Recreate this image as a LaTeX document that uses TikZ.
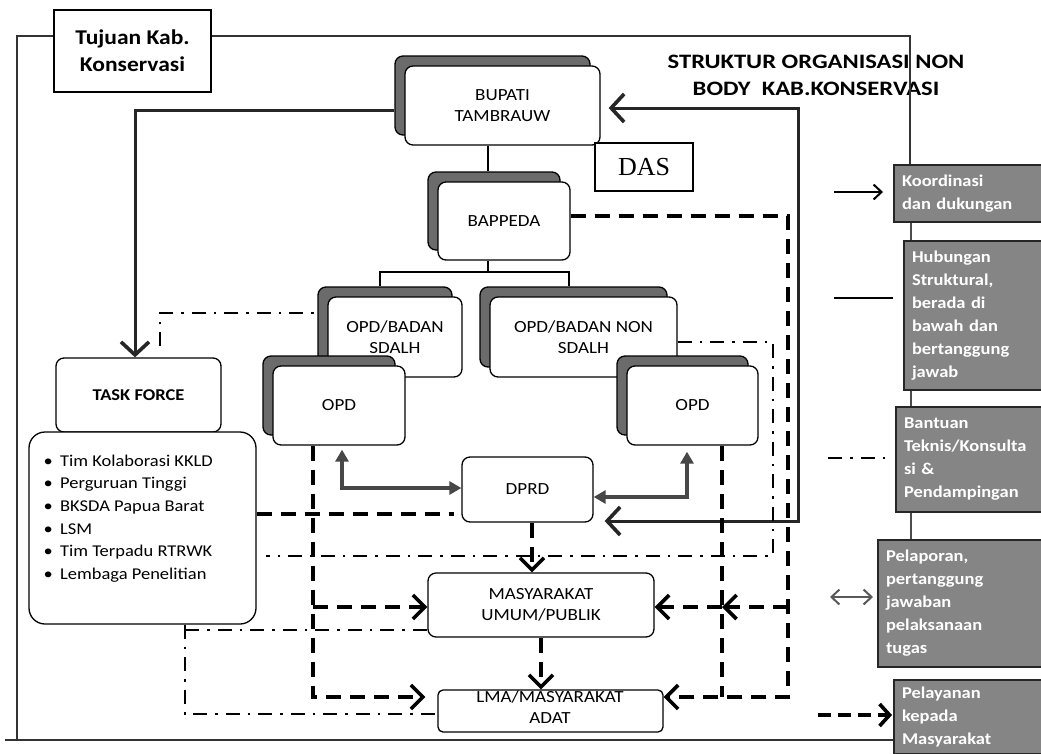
\documentclass[tikz,border=0pt]{standalone}
\usepackage{fontspec}
\setmainfont{Carlito}[FakeStretch=1.12]
\newfontfamily\titlefont{Carlito}[FakeStretch=1.2]
\newfontfamily\dasfont{Liberation Serif}
\usetikzlibrary{arrows.meta,shadows,calc}
\tikzset{
  card/.style={draw=black, line width=1.3pt, fill=white, rounded corners=8pt, align=center,
    font=\fontsize{17}{21.5}\selectfont, inner sep=0pt},
  shcard/.style={card, copy shadow={shadow xshift=-10pt, shadow yshift=10pt, fill=black!58, draw=black, line width=1.3pt}},
  legendbox/.style={draw=black!85, line width=2pt, fill=black!48, text=white, align=left,
    font=\bfseries\fontsize{16.5}{23}\selectfont, anchor=west, inner xsep=8pt, inner ysep=0pt},
  solidln/.style={line width=3pt, draw=black!85},
  grayln/.style={line width=4pt, draw=black!72},
  dashln/.style={line width=4.5pt, draw=black, dash pattern=on 15pt off 9pt},
  dashdotln/.style={line width=2pt, draw=black, dash pattern=on 14pt off 8pt on 2.5pt off 8pt},
  frameln/.style={line width=2.2pt, draw=black!80},
  treeln/.style={line width=1.3pt, draw=black},
  bigbarb/.tip={Straight Barb[length=13pt,width=28pt,line width=3.6pt]},
  midbarb/.tip={Straight Barb[length=12pt,width=24pt,line width=3.6pt]},
  smallbarb/.tip={Straight Barb[length=8pt,width=15pt,line width=2pt]},
  tri/.tip={Triangle[length=12pt,width=13pt]}
}
\begin{document}
\begin{tikzpicture}[x=1pt,y=-1pt]
\useasboundingbox (0,0) rectangle (1041,753);
\clip (0,0) rectangle (1041,753);
\fill[white] (0,0) rectangle (1041,753);

% ---------- boxes ----------
\node[card, sharp corners, minimum width=157pt, minimum height=82pt,
  font=\bfseries\fontsize{21}{27}\selectfont] (tujuan) at (132.5,51) {Tujuan Kab.\\Konservasi};

\node[font=\titlefont\bfseries\fontsize{20.5}{27}\selectfont, align=center] (title) at (816,75)
  {STRUKTUR ORGANISASI NON\\BODY\ \ KAB.KONSERVASI};

\node[shcard, minimum width=195pt, minimum height=79pt] (bupati) at (502.5,105.5) {BUPATI\\TAMBRAUW};
\node[card, sharp corners, minimum width=98pt, minimum height=48pt,
  font=\dasfont\fontsize{26}{30}\selectfont] (das) at (644,167) {DAS};
\node[shcard, minimum width=132pt, minimum height=78pt] (bappeda) at (504,221) {BAPPEDA};

\node[shcard, minimum width=134pt, minimum height=80pt] (sdalh) at (395,337) {OPD/BADAN\\SDALH};
\node[shcard, minimum width=187pt, minimum height=80pt] (nonsdalh) at (583.5,337) {OPD/BADAN NON\\SDALH};
\node[shcard, minimum width=132pt, minimum height=79pt] (opdL) at (339,405.5) {OPD};
\node[shcard, minimum width=131pt, minimum height=79pt] (opdR) at (692.5,405.5) {OPD};

\node[card, minimum width=165pt, minimum height=74pt, font=\bfseries\fontsize{16.5}{20}\selectfont] (task) at (138.5,395) {TASK FORCE};
\node[card, rounded corners=16pt, minimum width=227pt, minimum height=192pt] (list) at (142.5,528) {};
\node[anchor=west, align=left, inner sep=0pt, font=\fontsize{16.5}{22.6}\selectfont] (items) at (36,518.5)
  {\makebox[24pt][c]{\textbullet}Tim Kolaborasi KKLD\\
   \makebox[24pt][c]{\textbullet}Perguruan Tinggi\\
   \makebox[24pt][c]{\textbullet}BKSDA Papua Barat\\
   \makebox[24pt][c]{\textbullet}LSM\\
   \makebox[24pt][c]{\textbullet}Tim Terpadu RTRWK\\
   \makebox[24pt][c]{\textbullet}Lembaga Penelitian};

\node[card, minimum width=131pt, minimum height=65pt] (dprd) at (527.5,489.5) {DPRD};
\node[card, minimum width=226pt, minimum height=64pt] (masy) at (541,605) {MASYARAKAT\\UMUM/PUBLIK};
\node[card, rounded corners=5pt, minimum width=225pt, minimum height=42pt] (lma) at (550.5,711) {};
\node[align=center, inner sep=0pt, font=\fontsize{17}{21}\selectfont] (lmatext) at (550,707) {LMA/MASYARAKAT\\ADAT};

% ---------- legend ----------
\coordinate (v1) at (911,222);
\coordinate (v2) at (911,540);
\draw[line width=1.5pt, black!70] (v1) -- (v2);
\node[legendbox, minimum width=152pt, minimum height=57pt, text width=136pt] (L1) at (893,193.5) {Koordinasi\\dan dukungan};
\node[legendbox, minimum width=142pt, minimum height=149pt, text width=126pt] (L2) at (903,315.5) {Hubungan\\Struktural,\\berada di\\bawah dan\\bertanggung\\jawab};
\node[legendbox, minimum width=150pt, minimum height=105pt, text width=134pt] (L3) at (895,459.5) {Bantuan\\Teknis/Konsulta\\si \&\\Pendampingan};
\node[legendbox, minimum width=168pt, minimum height=127pt, text width=152pt] (L4) at (877,603.5) {Pelaporan,\\pertanggung\\jawaban\\pelaksanaan\\tugas};
\node[legendbox, minimum width=152pt, minimum height=74pt, text width=136pt] (L5) at (893,717) {Pelayanan\\kepada\\Masyarakat};

\coordinate (l1w) at ([xshift=-10pt]L1.west);
\coordinate (l2w) at ([xshift=-10pt]L2.west);
\coordinate (l3w) at ([xshift=-5pt]L3.west);
\coordinate (l4w) at ([xshift=-4pt]L4.west);
\coordinate (l5w) at ([xshift=-1pt]L5.west);
\coordinate (s1) at (834,192);
\coordinate (s2) at (834,298);
\coordinate (s3) at (828,458);
\coordinate (s4) at (830,597);
\coordinate (s5) at (818,715);
\draw[line width=1.8pt, -smallbarb] (s1) -- (s1 -| l1w);
\draw[line width=1.8pt] (s2) -- (s2 -| l2w);
\draw[dashdotln] (s3) -- (s3 -| l3w);
\draw[line width=1.8pt, black!65, smallbarb-smallbarb] (s4) -- (s4 -| l4w);
\draw[line width=4pt, dash pattern=on 13pt off 7pt, -{Straight Barb[length=10pt,width=22pt,line width=3.6pt]}] (s5) -- (s5 -| l5w);

% ---------- frame ----------
\coordinate (f1) at (17,36);
\coordinate (f2) at (17,740);
\coordinate (f3) at (5,740);
\coordinate (f5) at (910,36);
\draw[frameln] (tujuan.west |- f1) -- (f1) -- (f2);
\draw[frameln] (f3) -- (L5.west |- f3);
\draw[frameln] (tujuan.east |- f5) -- (f5) -- (L1.north -| f5);

% ---------- tree ----------
\coordinate (t0) at (488,0);
\coordinate (t1) at (380,272);
\coordinate (t2) at (569,272);
\coordinate (bapn) at ([yshift=10pt]bappeda.north);
\coordinate (sdn) at ([yshift=10pt]sdalh.north);
\coordinate (nsdn) at ([yshift=10pt]nonsdalh.north);
\draw[treeln] (bupati.south -| t0) -- (bapn -| t0);
\draw[treeln] (bappeda.south -| t0) -- (t0 |- t1);
\draw[treeln] (sdn -| t1) -- (t1) -- (t2) -- (nsdn -| t2);

% ---------- solid connectors ----------
\coordinate (a1) at (135,110);
\coordinate (bupw) at ([xshift=-10pt]bupati.west);
\draw[solidln, -bigbarb] (bupw |- a1) -- (a1) -- (task.north -| a1);

\coordinate (b1) at (798,108);
\coordinate (b2) at (798,521);
\coordinate (bupe) at ([xshift=8pt]bupati.east);
\coordinate (dpre) at ([xshift=11pt]dprd.east);
\draw[solidln, bigbarb-bigbarb] (bupe |- b1) -- (b1) -- (b2) -- (dpre |- b2);

\coordinate (c1) at (342,488);
\coordinate (c2) at (687,497);
\draw[grayln, tri-tri, shorten <=4pt] (opdL.south -| c1) -- (c1) -- (dprd.west |- c1);
\draw[grayln, tri-tri, shorten >=6pt] (dprd.east |- c2) -- (c2) -- (opdR.south -| c2);

% ---------- thick dashed connectors ----------
\coordinate (e1) at (532,0);
\draw[dashln, -midbarb] (dprd.south -| e1) -- (masy.north -| e1);
\draw[dashln, -midbarb] (masy.south) -- (lma.north -| masy.south);

\coordinate (g1) at (788,216);
\coordinate (g2) at (788,697);
\coordinate (g3) at (788,607);
\coordinate (h1) at (722,607);
\coordinate (h2) at (722,697);
\draw[dashln, -midbarb] (bappeda.east |- g1) -- (g1) -- (g2) -- (lma.east |- g2);
\draw[dashln, -midbarb] (g3) -- (h1);
\draw[dashln, -midbarb] (h1) -- (masy.east |- h1);
\draw[dashln] (opdR.south -| h1) -- (h2);

\coordinate (i1) at (313,697);
\coordinate (i2) at (313,607);
\draw[dashln, -midbarb, shorten >=12pt] (opdL.south -| i1) -- (i1) -- (lma.west |- i1);
\draw[dashln, -midbarb] (i2) -- (masy.west |- i2);

\coordinate (j1) at (300,514);
\draw[dashln, shorten >=7pt] (list.east |- j1) -- (dprd.west |- j1);

% ---------- dash-dot connectors ----------
\coordinate (k1) at (160,313);
\coordinate (taskn) at ([yshift=11pt]task.north);
\coordinate (sdw) at ([xshift=-10pt]sdalh.west);
\draw[dashdotln] (taskn -| k1) -- (k1) -- (sdw |- k1);

\coordinate (k2a) at (773,342);
\coordinate (k2b) at (773,556);
\coordinate (liste) at ([xshift=9pt]list.east);
\draw[dashdotln] (nonsdalh.east |- k2a) -- (k2a) -- (k2b) -- (liste |- k2b);

\coordinate (k3a) at (185,630);
\coordinate (k3b) at (185,714);
\draw[dashdotln] (list.south -| k3a) -- (k3b) -- (lma.west |- k3b);
\draw[dashdotln] (k3a) -- (masy.west |- k3a);
\end{tikzpicture}
\end{document}
